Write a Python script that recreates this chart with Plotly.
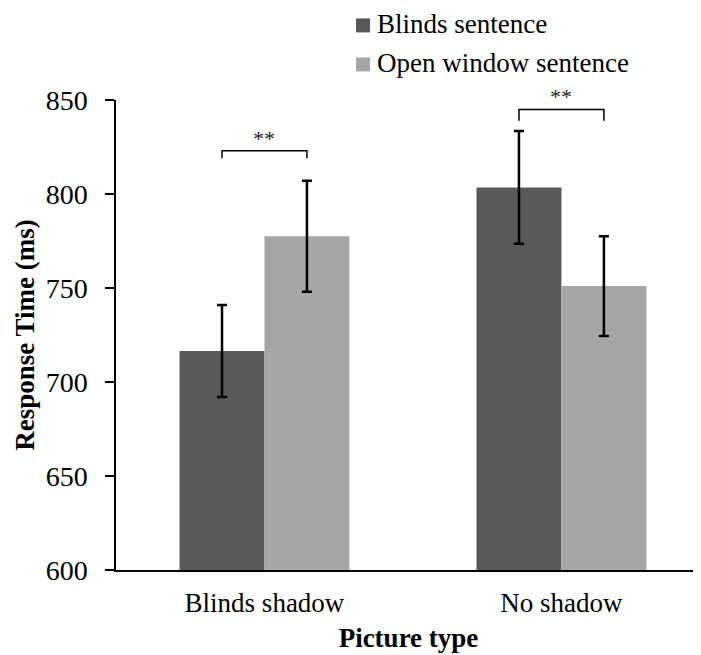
import plotly.graph_objects as go

categories = ["Blinds shadow", "No shadow"]
series_names = ["Blinds sentence", "Open window sentence"]
blinds_sentence = [716.5, 803.5]
blinds_err = [24.5, 30]
open_window_sentence = [777.5, 751]
open_err = [29.5, 26.5]
yticks = [600, 650, 700, 750, 800, 850]

FONT = "Liberation Serif"
dark = "#595959"
light = "#a6a6a6"
colors = [dark, light]

fig = go.Figure()
fig.add_trace(go.Bar(
    x=[0, 1], y=blinds_sentence, name=series_names[0],
    marker=dict(color=dark, line=dict(width=0)),
    error_y=dict(type="data", array=blinds_err, color="black", thickness=2.5, width=5),
))
fig.add_trace(go.Bar(
    x=[0, 1], y=open_window_sentence, name=series_names[1],
    marker=dict(color=light, line=dict(width=0)),
    error_y=dict(type="data", array=open_err, color="black", thickness=2.5, width=5),
))

# significance brackets
off = 0.143
brackets = [(0, 823, 819), (1, 845, 839)]
for cx, ytop, ybot in brackets:
    fig.add_shape(type="path",
                  path=f"M {cx-off} {ybot} L {cx-off} {ytop} L {cx+off} {ytop} L {cx+off} {ybot}",
                  xref="x", yref="y", line=dict(color="black", width=1.5))
    fig.add_annotation(x=cx, y=ytop, text="**", showarrow=False, yanchor="bottom",
                       yshift=-2, font=dict(family=FONT, size=22, color="#222"))

# legend drawn as squares + text (paper coordinates)
legend_rows_y = [1.1617, 1.0787]
sq_x0, sq_x1, sq_h = 0.4103, 0.4342, 0.0149
for name, col, ly in zip(series_names, colors, legend_rows_y):
    fig.add_shape(type="rect", xref="paper", yref="paper",
                  x0=sq_x0, x1=sq_x1, y0=ly - sq_h - 0.003, y1=ly + sq_h - 0.003,
                  fillcolor=col, line=dict(width=0))
    fig.add_annotation(xref="paper", yref="paper", x=0.4427, y=ly, text=name,
                       showarrow=False, xanchor="left", yanchor="middle",
                       font=dict(family=FONT, size=27, color="black"))

# the page adds an 8px body margin, so the figure is sized to fit 701x655
fig.update_layout(
    width=693, height=647,
    margin=dict(l=108, r=0, t=92, b=85, autoexpand=False),
    paper_bgcolor="white", plot_bgcolor="white",
    barmode="group", bargap=0.428, bargroupgap=0,
    font=dict(family=FONT, color="black"),
    showlegend=False,
    xaxis=dict(
        tickmode="array", tickvals=[0, 1], ticktext=categories,
        range=[-0.5, 1.47], showline=True, linecolor="black", linewidth=1.5,
        ticks="", showgrid=False, zeroline=False, automargin=False,
        ticklabelstandoff=8,
        tickfont=dict(family=FONT, size=27, color="black"),
        title=dict(text="<b>Picture type</b>", font=dict(family=FONT, size=27, color="black"), standoff=11),
    ),
    yaxis=dict(
        range=[600, 850], tickvals=yticks, showline=True, linecolor="black", linewidth=1.5,
        ticks="outside", ticklen=9, tickwidth=1.5, tickcolor="black",
        ticklabelstandoff=12, automargin=False,
        showgrid=False, zeroline=False,
        tickfont=dict(family=FONT, size=28, color="black"),
        title=dict(text="<b>Response Time (ms)</b>", font=dict(family=FONT, size=27, color="black"), standoff=3),
    ),
)

fig.write_html("out.html")
